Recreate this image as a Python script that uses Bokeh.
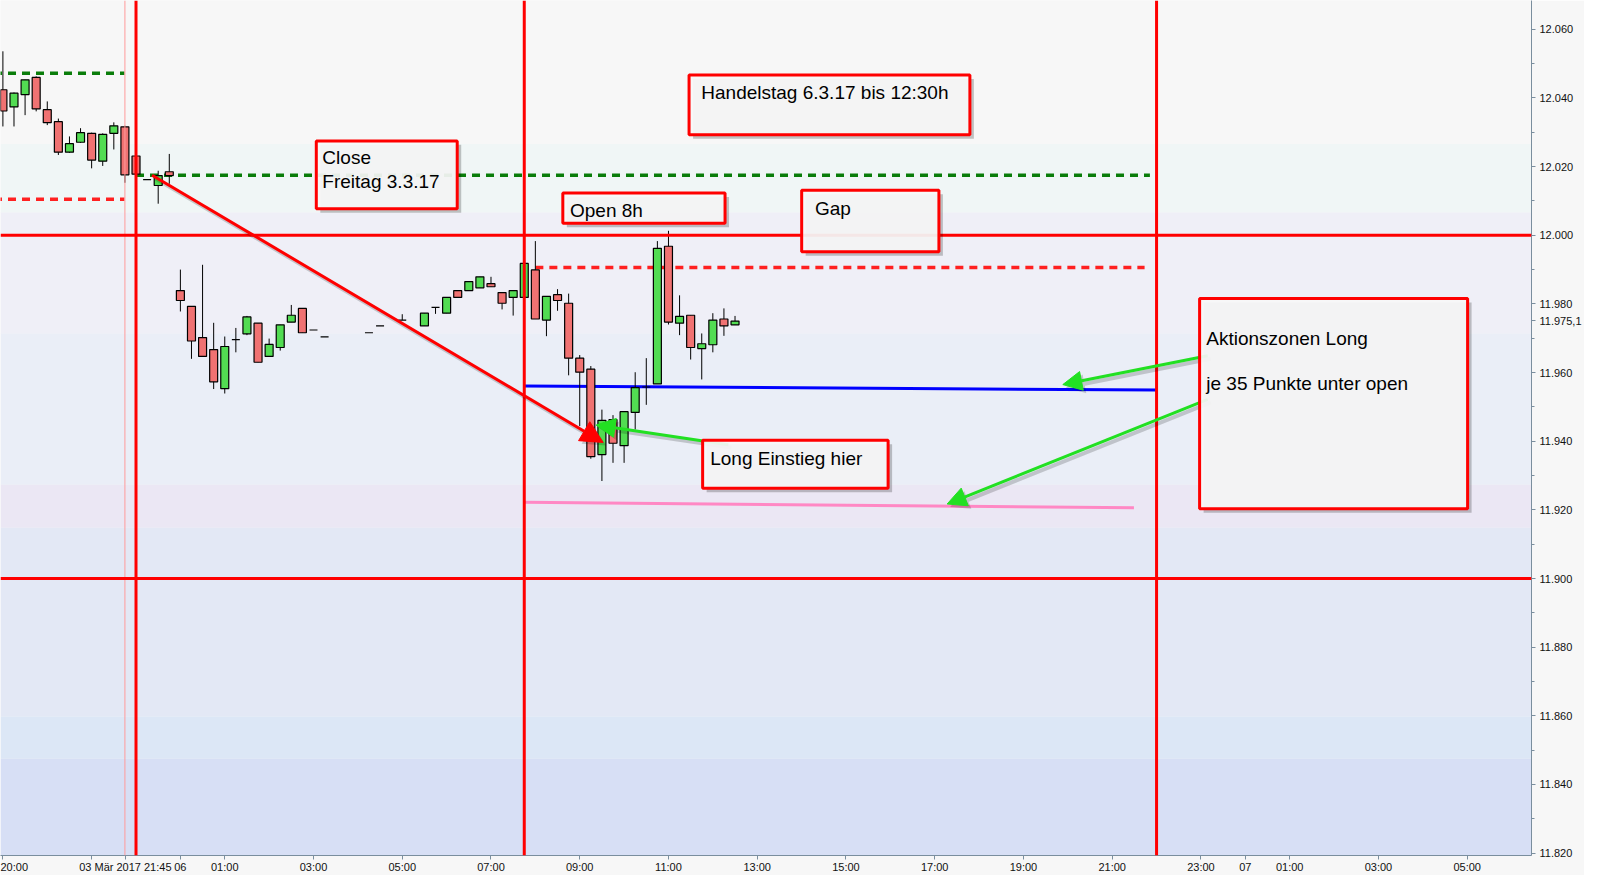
from bokeh.plotting import figure
from bokeh.models import (Range1d, FixedTicker, Span, Label, Arrow, NormalHead,
                          ColumnDataSource, BoxAnnotation)
from bokeh.embed import file_html
from bokeh.resources import INLINE

# ---------------- data ----------------
# time in hours relative to Monday 06.03.2017 00:00 (weekend removed), 15-min candles
t = [-4.00, -3.75, -3.50, -3.25, -3.00, -2.75, -2.50, -2.25, -2.00, -1.75, -1.50, -1.25, -1.00,
     -0.75, -0.50, -0.25,
     0.00, 0.25, 0.50, 0.75, 1.00, 1.25, 1.50, 1.75, 2.00, 2.25, 2.50, 2.75, 3.00, 3.25,
     4.25, 4.50, 5.00, 5.50, 5.75, 6.00, 6.25, 6.50, 6.75, 7.00, 7.25, 7.50,
     7.75, 8.00, 8.25, 8.50, 8.75, 9.00, 9.25, 9.50, 9.75, 10.00, 10.25, 10.50,
     10.75, 11.00, 11.25, 11.50, 11.75, 12.00, 12.25, 12.50]
o = [12042.4, 12037.4, 12041.0, 12046.0, 12036.6, 12033.1, 12024.2, 12027.1, 12029.7, 12021.6, 12029.7, 12031.6, 12023.1,
     12016.2, 12014.5, 12018.5,
     11983.9, 11979.3, 11970.2, 11966.7, 11955.3, 11969.6, 11971.3, 11974.4, 11964.7, 11967.3, 11974.7, 11978.7, 11972.4, 11970.4,
     11971.6, 11973.6, 11975.3, 11973.6, 11979.0, 11977.3, 11983.9, 11983.9, 11984.7, 11985.9, 11983.3, 11981.9,
     11981.9, 11989.9, 11975.3, 11982.7, 11980.2, 11964.2, 11961.0, 11936.1, 11946.3, 11938.7, 11948.4, 11955.8,
     11956.7, 11996.8, 11974.4, 11976.7, 11967.0, 11968.1, 11975.6, 11973.9]
h = [12053.6, 12041.6, 12045.3, 12046.3, 12039.0, 12034.0, 12028.8, 12031.2, 12029.9, 12029.7, 12032.9, 12031.9, 12023.1,
     12016.2, 12018.8, 12023.7,
     11990.0, 11979.3, 11991.4, 11974.5, 11970.5, 11973.0, 11976.5, 11974.4, 11969.9, 11973.9, 11979.7, 11978.7, 11972.4, 11970.4,
     11971.6, 11973.6, 11977.0, 11977.3, 11979.0, 11981.9, 11983.9, 11986.5, 11987.9, 11987.9, 11983.3, 11983.9,
     11991.8, 11998.3, 11982.2, 11984.3, 11983.0, 11965.1, 11961.9, 11949.2, 11947.6, 11948.6, 11960.1, 11964.2,
     11998.3, 12001.3, 11982.5, 11976.7, 11971.4, 11977.3, 11978.7, 11976.5]
l = [12031.7, 12031.7, 12035.0, 12036.1, 12032.1, 12023.4, 12024.0, 12026.9, 12019.5, 12020.2, 12025.0, 12015.3, 12017.8,
     12016.2, 12009.2, 12015.0,
     11977.8, 11964.0, 11964.7, 11955.2, 11953.9, 11965.9, 11970.9, 11963.0, 11964.7, 11966.4, 11974.7, 11971.6, 11972.4, 11970.4,
     11971.6, 11973.6, 11975.3, 11973.6, 11977.1, 11977.3, 11981.9, 11983.9, 11984.7, 11985.0, 11978.4, 11976.6,
     11981.9, 11975.6, 11970.6, 11978.0, 11959.2, 11944.4, 11934.9, 11928.4, 11933.7, 11933.7, 11943.4, 11950.6,
     11956.7, 11974.0, 11970.9, 11963.8, 11958.0, 11965.9, 11970.7, 11973.9]
c = [12036.2, 12041.4, 12045.3, 12036.8, 12032.8, 12024.2, 12026.7, 12029.9, 12021.9, 12029.4, 12031.9, 12017.6, 12017.8,
     12016.2, 12017.4, 12017.4,
     11981.0, 11969.2, 11964.7, 11957.3, 11967.6, 11969.6, 11976.2, 11963.0, 11968.2, 11973.9, 11976.7, 11971.6, 11972.4, 11970.4,
     11971.6, 11973.6, 11975.3, 11977.3, 11979.0, 11981.9, 11981.9, 11986.5, 11987.9, 11985.0, 11980.2, 11983.9,
     11991.8, 11975.6, 11982.2, 11981.0, 11964.2, 11960.1, 11935.5, 11946.1, 11939.4, 11948.6, 11955.6, 11955.8,
     11996.2, 11974.7, 11976.4, 11967.3, 11968.4, 11975.3, 11973.6, 11975.0]

last_price = 11975.1
last_price_text = "11.975,1"

y_tick_values = [11820, 11840, 11860, 11880, 11900, 11920, 11940, 11960, 11980, 12000, 12020, 12040, 12060]
y_tick_labels = ["11.820", "11.840", "11.860", "11.880", "11.900", "11.920", "11.940", "11.960",
                 "11.980", "12.000", "12.020", "12.040", "12.060"]

crosshair_time = -1.24
crosshair_text = "03 Mär 2017 21:45"
x_tick_values = [-4, -2, crosshair_time, 0, 1, 3, 5, 7, 9, 11, 13, 15, 17, 19, 21, 23, 24, 25, 27, 29]
x_tick_labels = ["20:00", "", crosshair_text, "06", "01:00", "03:00", "05:00", "07:00", "09:00", "11:00", "13:00",
                 "15:00", "17:00", "19:00", "21:00", "23:00", "07", "01:00", "03:00", "05:00"]

# horizontal key levels and vertical session lines
solid_levels = [12000, 11900]
session_lines = [-1.0, 7.75, 22.0]
cursor_line = -1.25

green_dash_left = dict(t=[-4.2, -1.26], p=[12047.2, 12047.2])
red_dash_left = dict(t=[-4.2, -1.26], p=[12010.5, 12010.5])
green_dash_right = dict(t=[-1.0, 21.85], p=[12017.5, 12017.5])
red_dash_right = dict(t=[8.0, 21.73], p=[11990.6, 11990.6])
blue_zone = dict(t=[7.75, 22.0], p=[11956.1, 11954.9])
pink_zone = dict(t=[7.75, 21.49], p=[11922.2, 11920.6])

# background bands (price boundaries) and colours
band_edges = [12080, 12026.6, 12006.6, 11971.4, 11927.3, 11914.8, 11859.8, 11847.5, 11800]
band_colors = ["#f7f7f7", "#f0f6f6", "#efeff7", "#eaeef7", "#ebe7f4", "#e3e8f5", "#dce7f6", "#d7dff5"]

# annotation boxes: (left t, right t, bottom p, top p)
boxes = [
    (11.464, 17.793, 12029.3, 12046.7),   # Handelstag
    (3.063, 6.239, 12007.7, 12027.5),     # Close
    (8.619, 12.275, 12003.5, 12012.3),    # Open 8h
    (14.002, 17.095, 11995.2, 12013.1),   # Gap
    (22.97, 29.01, 11920.3, 11981.6),     # Aktionszonen
    (11.77, 15.95, 11926.3, 11940.3),     # Long Einstieg
]
texts = [
    (11.74, 12041.7, "Handelstag 6.3.17 bis 12:30h"),
    (3.20, 12022.6, "Close"),
    (3.20, 12015.7, "Freitag 3.3.17"),
    (8.78, 12007.2, "Open 8h"),
    (14.30, 12007.8, "Gap"),
    (23.12, 11970.0, "Aktionszonen Long"),
    (23.12, 11956.8, "je 35 Punkte unter open"),
    (11.94, 11935.1, "Long Einstieg hier"),
]
# arrows: (t0, p0, t1, p1, colour, head size)
arrows = [
    (-0.637, 12017.5, 9.527, 11939.65, "#ff0000", 22),
    (12.35, 11939.0, 9.369, 11944.7, "#22e022", 19),
    (23.153, 11964.9, 19.887, 11956.5, "#22e022", 19),
    (23.153, 11952.2, 17.28, 11921.7, "#22e022", 19),
]

# ---------------- figure ----------------
X0, X1 = -4.054, 30.45
Y0, Y1 = 11819.3, 12068.4
p = figure(width=1584, height=875, x_range=Range1d(X0, X1), y_range=Range1d(Y0, Y1),
           y_axis_location="right", output_backend="svg", toolbar_location=None,
           min_border_left=0, min_border_top=0, min_border_right=52, min_border_bottom=19)
p.xgrid.visible = False
p.ygrid.visible = False
p.outline_line_color = None
p.background_fill_color = "#f7f7f7"
p.border_fill_color = "#f7f7f7"

axis_col = "#7a8e9e"
FONT = "Liberation Sans"

for i in range(len(band_colors)):
    p.add_layout(BoxAnnotation(bottom=band_edges[i + 1], top=band_edges[i], fill_color=band_colors[i],
                               fill_alpha=1.0, line_color=None, level="underlay"))

# axes
ya = p.yaxis[0]
ya.ticker = FixedTicker(ticks=y_tick_values + [last_price],
                        minor_ticks=[v + 10 for v in y_tick_values] + [11810])
overrides = {v: s for v, s in zip(y_tick_values, y_tick_labels)}
overrides[last_price] = last_price_text
ya.major_label_overrides = overrides
ya.axis_line_color = axis_col
ya.major_tick_line_color = axis_col
ya.minor_tick_line_color = axis_col
ya.major_tick_out = 4
ya.major_tick_in = 0
ya.minor_tick_out = 3
ya.minor_tick_in = 0
ya.major_label_standoff = 4
ya.major_label_text_font = FONT
ya.major_label_text_font_size = "11px"
ya.major_label_text_color = "#111111"

xa = p.xaxis[0]
xa.ticker = FixedTicker(ticks=x_tick_values)
xa.major_label_overrides = {v: s for v, s in zip(x_tick_values, x_tick_labels)}
xa.axis_line_color = axis_col
xa.major_tick_line_color = axis_col
xa.minor_tick_line_color = None
xa.major_tick_out = 4
xa.major_tick_in = 0
xa.major_label_standoff = 1
xa.major_label_text_font = FONT
xa.major_label_text_font_size = "11px"
xa.major_label_text_color = "#111111"

# dashed / zone lines
for d, col in [(green_dash_left, "#0a7d0a"), (green_dash_right, "#0a7d0a"),
               (red_dash_left, "#ff2020"), (red_dash_right, "#ff2020")]:
    p.line(d["t"], d["p"], line_color=col, line_width=3.5, line_dash="8 6")
p.line(blue_zone["t"], blue_zone["p"], line_color="#0000ff", line_width=3)
p.line(pink_zone["t"], pink_zone["p"], line_color="#ff88c4", line_width=3)

# candles
src = ColumnDataSource(dict(
    t=t, h=h, l=l,
    top=[max(a, b) for a, b in zip(o, c)],
    bottom=[min(a, b) for a, b in zip(o, c)],
    color=["#f07272" if b < a else "#52dc52" for a, b in zip(o, c)],
))
p.segment(x0="t", y0="l", x1="t", y1="h", source=src, line_color="black", line_width=1)
p.vbar(x="t", width=0.18, top="top", bottom="bottom", source=src, fill_color="color",
       line_color="black", line_width=1.2)

# key lines
p.add_layout(Span(location=cursor_line, dimension="height", line_color="#ff9a9a", line_width=1))
for lv in solid_levels:
    p.add_layout(Span(location=lv, dimension="width", line_color="#ff0000", line_width=3))
for s in session_lines:
    p.add_layout(Span(location=s, dimension="height", line_color="#ff0000", line_width=3))

# arrows (with soft shadow)
sdx, sdy = 3 / 44.4, -3 / 3.44
for x0, y0, x1, y1, col, hs in arrows:
    p.add_layout(Arrow(x_start=x0 + sdx, y_start=y0 + sdy, x_end=x1 + sdx, y_end=y1 + sdy,
                       line_color="#000000", line_alpha=0.18, line_width=4,
                       end=NormalHead(size=hs, fill_color="#000000", fill_alpha=0.18, line_color=None)))
    p.add_layout(Arrow(x_start=x0, y_start=y0, x_end=x1, y_end=y1, line_color=col, line_width=3,
                       end=NormalHead(size=hs, fill_color=col, line_color=col, line_width=1)))

# boxes with shadows
bdx, bdy = 4 / 44.4, -4 / 3.44
for x0, x1, y0, y1 in boxes:
    p.add_layout(BoxAnnotation(left=x0 + bdx, right=x1 + bdx, bottom=y0 + bdy, top=y1 + bdy,
                               fill_color="#000000", fill_alpha=0.22, line_color=None, level="overlay"))
    p.add_layout(BoxAnnotation(left=x0, right=x1, bottom=y0, top=y1, fill_color="#f8f8f8",
                               fill_alpha=0.93, line_color="#ff0000", line_alpha=1.0, line_width=3,
                               level="overlay"))
for x, y, s in texts:
    p.add_layout(Label(x=x, y=y, text=s, text_font=FONT, text_font_size="19px",
                       text_color="#000000", text_baseline="middle", text_align="left", level="overlay"))

open("out.html", "w").write(file_html(p, INLINE))
